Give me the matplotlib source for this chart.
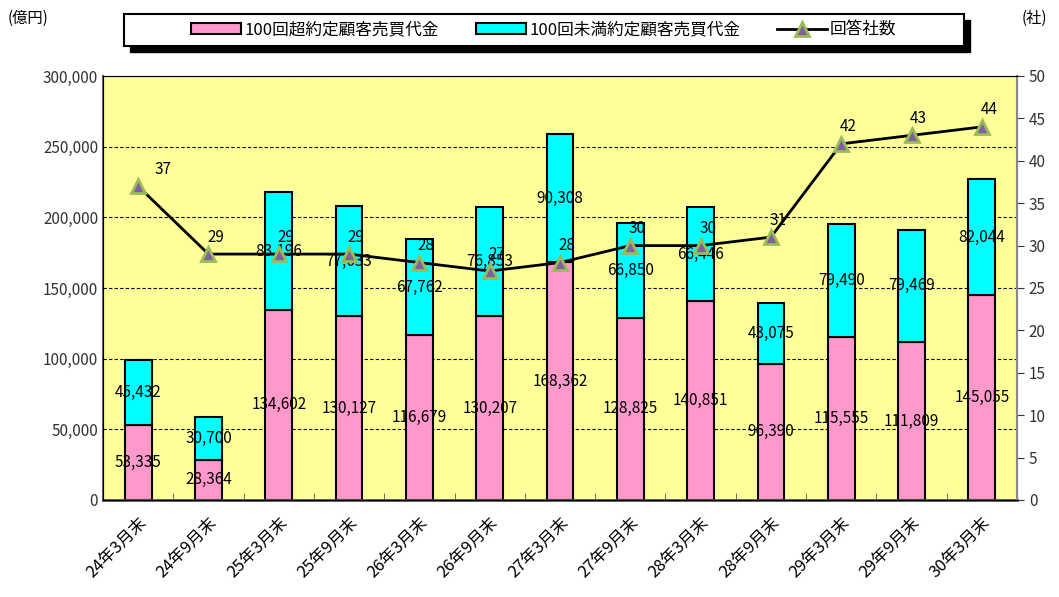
import numpy as np
import matplotlib.pyplot as plt
from matplotlib.patches import Rectangle
from matplotlib.ticker import FuncFormatter, MultipleLocator

plt.rcParams['font.family'] = ['Noto Sans CJK JP', 'DejaVu Sans']

periods = ['24年3月末', '24年9月末', '25年3月末', '25年9月末', '26年3月末', '26年9月末',
           '27年3月末', '27年9月末', '28年3月末', '28年9月末', '29年3月末', '29年9月末', '30年3月末']
over100 = [53335, 28364, 134602, 130127, 116679, 130207, 168362,
           128825, 140851, 96390, 115555, 111809, 145055]
under100 = [45432, 30700, 83196, 77633, 67762, 76853, 90308,
            66850, 66446, 43075, 79490, 79469, 82044]
companies = [37, 29, 29, 29, 28, 27, 28, 30, 30, 31, 42, 43, 44]

pink = '#FF99CC'
cyan = '#00FFFF'

fig = plt.figure(figsize=(10.59, 5.97), dpi=100)
ax = fig.add_axes([103/1059, 1-500/597, 914/1059, 424/597])
ax.set_facecolor('#FFFF99')

x = np.arange(len(periods))
w = 0.38
b1 = ax.bar(x, over100, w, color=pink, edgecolor='black', linewidth=1.5, zorder=2,
            label='100回超約定顧客売買代金')
b2 = ax.bar(x, under100, w, bottom=over100, color=cyan, edgecolor='black', linewidth=1.5,
            zorder=2, label='100回未満約定顧客売買代金')

for i in range(len(periods)):
    ax.text(x[i], over100[i] / 2, f'{over100[i]:,}', ha='center', va='center',
            fontsize=11, zorder=5)
    ax.text(x[i], over100[i] + under100[i] / 2, f'{under100[i]:,}', ha='center',
            va='center', fontsize=11, zorder=5)

ax.set_xlim(-0.5, len(periods) - 0.5)
ax.set_ylim(0, 300000)
ax.yaxis.set_major_locator(MultipleLocator(50000))
ax.yaxis.set_major_formatter(FuncFormatter(lambda v, p: f'{int(v):,}'))
ax.grid(axis='y', color='black', linestyle=(0, (3, 2)), linewidth=0.8, zorder=1)
ax.set_axisbelow(True)

ax.set_xticks(x)
ax.set_xticklabels(periods, rotation=45, ha='right', rotation_mode='anchor', fontsize=12)
ax.tick_params(axis='x', length=0, pad=10)
ax.set_xticks(x[:-1] + 0.5, minor=True)
ax.tick_params(axis='x', which='minor', direction='in', length=5, color='#555555')
ax.tick_params(axis='y', labelsize=11, colors='#333333', length=0)
for s in ['top', 'right']:
    ax.spines[s].set_color('#888888')
ax.spines['left'].set_color('#666666')
ax.spines['left'].set_linewidth(1.5)
ax.spines['bottom'].set_color('#555555')
ax.spines['bottom'].set_linewidth(2)

ax2 = ax.twinx()
ax2.plot(x, companies, color='black', linewidth=2, marker='^', markersize=10,
         markerfacecolor='#7F60A0', markeredgecolor='#9BBB59', markeredgewidth=2,
         zorder=4, label='回答社数')
ax2.set_ylim(0, 50)
ax2.yaxis.set_major_locator(MultipleLocator(5))
ax2.tick_params(axis='y', labelsize=11, colors='#333333', direction='out', length=5)
ax2.spines['right'].set_color('#888888')
ax2.spines['right'].set_linewidth(1.5)
for i in range(len(periods)):
    dx = 0.35 if i == 0 else 0.1
    ax2.text(x[i] + dx, companies[i] + 2.0, str(companies[i]), ha='center', va='center',
             fontsize=11, zorder=5)

fig.text(8/1059, 1-18/597, '(億円)', fontsize=11, va='center', ha='left')
fig.text(1022/1059, 1-18/597, '(社)', fontsize=11, va='center', ha='left')

# legend box with drop shadow
lx0, ly0, lw, lh = 124/1059, 1-46/597, 840/1059, 32/597
fig.patches.append(Rectangle((lx0 + 6/1059, ly0 - 6/597), lw, lh, transform=fig.transFigure,
                             facecolor='black', edgecolor='black', zorder=0))
fig.patches.append(Rectangle((lx0, ly0), lw, lh, transform=fig.transFigure,
                             facecolor='white', edgecolor='black', linewidth=1.5, zorder=0.5))
handles = [b1, b2, ax2.lines[0]]
leg = fig.legend(handles, [h.get_label() for h in handles], loc='center',
                 bbox_to_anchor=(lx0 + lw / 2, ly0 + lh / 2), ncol=3, fontsize=12,
                 frameon=False, handlelength=3.0, handleheight=0.6, handletextpad=0.2,
                 columnspacing=2.2)
leg.set_zorder(1)

fig.savefig('out.png', dpi=100)
